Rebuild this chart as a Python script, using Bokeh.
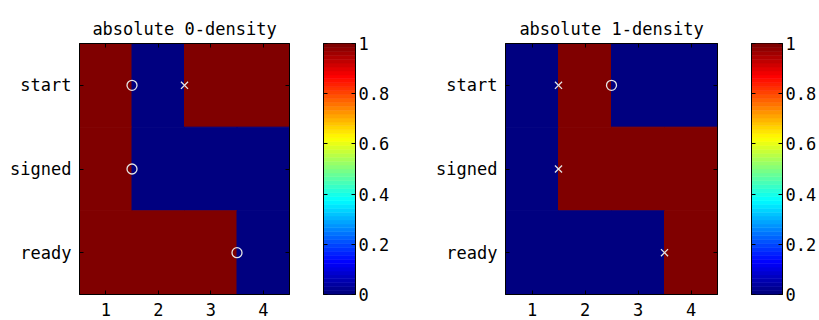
import numpy as np
from bokeh.plotting import figure
from bokeh.layouts import row
from bokeh.models import (FactorRange, Range1d, LinearAxis, CategoricalAxis,
                          FixedTicker, ColumnDataSource, CustomJSTickFormatter)
from bokeh.embed import file_html
from bokeh.resources import INLINE

# ---------------- data ----------------
rows = ["start", "signed", "ready"]
cols = [1, 2, 3, 4]
density0 = [[1, 0, 1, 1],   # start
            [1, 0, 0, 0],   # signed
            [1, 1, 1, 0]]   # ready
density1 = [[0, 1, 0, 0],
            [0, 1, 1, 1],
            [0, 0, 0, 1]]
titles = ["absolute 0-density", "absolute 1-density"]
# marker positions (x between columns, y on rows)
circ0_x = [1.5, 1.5, 3.5]
circ0_y = ["start", "signed", "ready"]
cross0_x = [2.5]
cross0_y = ["start"]
circ1_x = [2.5]
circ1_y = ["start"]
cross1_x = [1.5, 1.5, 3.5]
cross1_y = ["start", "signed", "ready"]
cb_ticks = [0, 0.2, 0.4, 0.6, 0.8, 1]
cb_labels = ["0", "0.2", "0.4", "0.6", "0.8", "1"]

# jet colormap (64 levels)
def jet(n=64):
    out = []
    for i in range(n):
        x = i / (n - 1)
        r = min(max(1.5 - abs(4 * x - 3), 0), 1)
        g = min(max(1.5 - abs(4 * x - 2), 0), 1)
        b = min(max(1.5 - abs(4 * x - 1), 0), 1)
        out.append("#%02x%02x%02x" % (int(round(r * 255)), int(round(g * 255)), int(round(b * 255))))
    return out

JET = jet(64)
FONT = "DejaVu Sans Mono"
FS = "17px"
MK = "#e4e4e4"


def style_axis(ax, labels=True):
    ax.major_tick_in = 4
    ax.major_tick_out = 0
    ax.minor_tick_in = 0
    ax.minor_tick_out = 0
    ax.axis_line_color = "black"
    ax.major_tick_line_color = "black"
    ax.major_label_text_font = FONT
    ax.major_label_text_font_size = FS
    ax.major_label_text_color = "black"
    ax.major_label_standoff = 8 if labels else 0
    if not labels:
        ax.formatter = CustomJSTickFormatter(code="return ''")


def heat(mat, title, cx, cy, xx, xy, width, mb_left, mb_right):
    p = figure(width=width, height=320, output_backend="svg", toolbar_location=None,
               x_range=Range1d(0.5, 4.5), y_range=FactorRange(*rows[::-1]),
               min_border_left=mb_left, min_border_right=mb_right,
               min_border_top=43, min_border_bottom=26,
               title=title)
    p.title.align = "center"
    p.title.text_font = FONT
    p.title.text_font_size = FS
    p.title.text_font_style = "normal"
    p.title.text_color = "black"
    p.title.offset = 0
    xs, ys, cs = [], [], []
    for r_i, rname in enumerate(rows):
        for c_i, c in enumerate(cols):
            xs.append(c)
            ys.append(rname)
            cs.append(JET[-1] if mat[r_i][c_i] == 1 else JET[0])
    src = ColumnDataSource(dict(x=xs, y=ys, c=cs))
    p.rect(x="x", y="y", width=1, height=1, fill_color="c", line_color="c",
           line_width=1, source=src)
    p.scatter(cx, cy, marker="circle", size=10, fill_color=None, line_color=MK, line_width=1.3)
    p.scatter(xx, xy, marker="x", size=10, line_color=MK, line_width=1.3)
    p.xgrid.visible = False
    p.ygrid.visible = False
    p.xaxis.ticker = FixedTicker(ticks=cols)
    style_axis(p.xaxis[0])
    style_axis(p.yaxis[0])
    top = LinearAxis(ticker=FixedTicker(ticks=cols))
    style_axis(top, labels=False)
    p.add_layout(top, "above")
    right = CategoricalAxis()
    style_axis(right, labels=False)
    p.add_layout(right, "right")
    p.outline_line_color = "black"
    p.background_fill_color = "white"
    p.border_fill_color = "white"
    return p


def cbar(width, mb_left, mb_right):
    p = figure(width=width, height=320, output_backend="svg", toolbar_location=None,
               x_range=Range1d(0, 1), y_range=Range1d(0, 1),
               x_axis_location=None, y_axis_location="right",
               min_border_left=mb_left, min_border_right=mb_right,
               min_border_top=43, min_border_bottom=22)
    edges = np.linspace(0, 1, len(JET) + 1)
    p.quad(left=0, right=1, bottom=edges[:-1], top=edges[1:], fill_color=JET,
           line_color=JET, line_width=0.6)
    p.xgrid.visible = False
    p.ygrid.visible = False
    ax = p.yaxis[0]
    ax.ticker = FixedTicker(ticks=cb_ticks)
    ax.major_label_overrides = dict(zip(cb_ticks, cb_labels))
    style_axis(ax)
    ax.major_label_standoff = 3
    left = LinearAxis(ticker=FixedTicker(ticks=cb_ticks))
    style_axis(left, labels=False)
    p.add_layout(left, "left")
    p.outline_line_color = "black"
    p.border_fill_color = "white"
    return p


h1 = heat(density0, titles[0], circ0_x, circ0_y, cross0_x, cross0_y, 310, 79, 21)
c1 = cbar(100, 13, 55)
h2 = heat(density1, titles[1], circ1_x, circ1_y, cross1_x, cross1_y, 328, 95, 21)
c2 = cbar(81, 13, 37)

layout = row(h1, c1, h2, c2)
open("out.html", "w").write(file_html(layout, INLINE))
